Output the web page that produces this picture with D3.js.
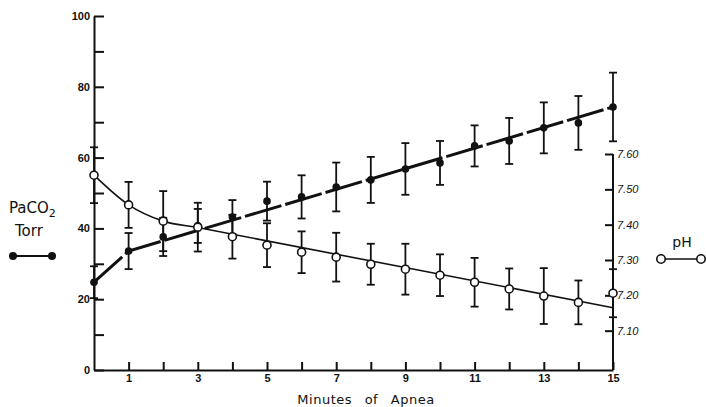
<!DOCTYPE html>
<html>
<head>
<meta charset="utf-8">
<script src="https://cdn.jsdelivr.net/npm/d3@7"></script>
<style>
  body { margin: 0; background: #fff; }
  svg { display: block; font-family: "DejaVu Sans", sans-serif; }
  .axis path, .axis line { stroke: #111; stroke-width: 2; }
  .axis text { fill: #111; }
</style>
</head>
<body>
<div id="chart"></div>
<script>
// minutes of apnea
var minutes = [0, 1, 2, 3, 4, 5, 6, 7, 8, 9, 10, 11, 12, 13, 14, 15];

// PaCO2 (Torr), mean and SD
var paco2 = [24.8, 33.6, 37.6, 40.7, 43.2, 47.7, 48.9, 51.7, 53.7, 56.8, 58.5, 63.3, 64.7, 68.4, 69.8, 74.3];
var paco2Sd = [4.5, 5.1, 5.4, 4.8, 4.8, 5.5, 6.1, 6.9, 6.5, 7.3, 6.2, 5.8, 6.5, 7.2, 7.6, 9.7];

// pH, mean and SD
var ph = [7.54, 7.456, 7.41, 7.393, 7.366, 7.342, 7.322, 7.308, 7.288, 7.274, 7.257, 7.237, 7.218, 7.198, 7.18, 7.206];
var phSd = [0.079, 0.065, 0.085, 0.069, 0.062, 0.062, 0.059, 0.069, 0.058, 0.072, 0.059, 0.069, 0.058, 0.079, 0.062, 0.068];

// drawn trend lines
var paco2FitMin = [0, 1, 15];
var paco2Fit = [24.8, 33.6, 74.3];
var phFitMin = [0, 1, 2, 3, 15];
var phFit = [7.54, 7.456, 7.41, 7.392, 7.165];

// axis ticks
var leftTicks = [0, 10, 20, 30, 40, 50, 60, 70, 80, 90, 100];
var bottomTicks = [1, 2, 3, 4, 5, 6, 7, 8, 9, 10, 11, 12, 13, 14, 15];
var rightTicks = [7.1, 7.2, 7.3, 7.4, 7.5, 7.6];

var W = 706, H = 407;
var x0 = 94, x1 = 613, yBase = 370;

var x = d3.scaleLinear().domain([0, 15]).range([x0, x1]);
var y = d3.scaleLinear().domain([0, 100]).range([yBase, 16]);
var yPh = d3.scaleLinear().domain([7.0, 7.6]).range([366, 154]);

var svg = d3.select("#chart").append("svg")
    .attr("width", W)
    .attr("height", H);

/* axes */
svg.append("g").attr("class", "axis")
    .attr("transform", "translate(" + x0 + ",0)")
    .call(d3.axisLeft(y)
        .tickValues(leftTicks)
        .tickSizeInner(-10)
        .tickSizeOuter(0)
        .tickPadding(4)
        .tickFormat(function (d) { return d % 20 === 0 ? d : ""; }))
    .selectAll("text")
    .style("font-size", "11px")
    .style("font-weight", "bold");

svg.append("g").attr("class", "axis")
    .attr("transform", "translate(0," + yBase + ")")
    .call(d3.axisBottom(x)
        .tickValues(bottomTicks)
        .tickSizeInner(-8)
        .tickSizeOuter(0)
        .tickPadding(4)
        .tickFormat(function (d) { return d % 2 === 1 ? d : ""; }))
    .selectAll("text")
    .style("font-size", "11px")
    .style("font-weight", "bold");

var rAxis = svg.append("g").attr("class", "axis")
    .attr("transform", "translate(" + x1 + ",0)")
    .call(d3.axisRight(yPh)
        .tickValues(rightTicks)
        .tickSizeInner(-8)
        .tickSizeOuter(0)
        .tickPadding(4)
        .tickFormat(d3.format(".2f")));
rAxis.select(".domain").remove();
rAxis.selectAll("text")
    .style("font-size", "11px")
    .style("font-style", "italic");
rAxis.append("line")
    .attr("x1", 0).attr("x2", 0)
    .attr("y1", yPh(7.6)).attr("y2", yBase)
    .attr("stroke", "#111").attr("stroke-width", 2);

/* trend lines */
var paco2Line = d3.line()
    .x(function (d) { return x(d[0]); })
    .y(function (d) { return y(d[1]); });

svg.append("path")
    .datum(d3.zip(paco2FitMin, paco2Fit))
    .attr("d", paco2Line)
    .attr("fill", "none")
    .attr("stroke", "#111")
    .attr("stroke-width", 3)
    .attr("stroke-dasharray", "38,4");

var phLine = d3.line()
    .curve(d3.curveMonotoneX)
    .x(function (d) { return x(d[0]); })
    .y(function (d) { return yPh(d[1]); });

svg.append("path")
    .datum(d3.zip(phFitMin, phFit))
    .attr("d", phLine)
    .attr("fill", "none")
    .attr("stroke", "#111")
    .attr("stroke-width", 1.6);

/* error bars */
function errorBars(vals, sds, scale) {
    var g = svg.append("g")
        .attr("stroke", "#111")
        .attr("stroke-width", 1.8);
    minutes.forEach(function (m, i) {
        var cx = x(m), top = scale(vals[i] + sds[i]), bot = scale(vals[i] - sds[i]);
        g.append("line").attr("x1", cx).attr("x2", cx).attr("y1", top).attr("y2", bot);
        g.append("line").attr("x1", cx - 4).attr("x2", cx + 4).attr("y1", top).attr("y2", top);
        g.append("line").attr("x1", cx - 4).attr("x2", cx + 4).attr("y1", bot).attr("y2", bot);
    });
}
errorBars(ph, phSd, yPh);
errorBars(paco2, paco2Sd, y);

/* markers */
svg.append("g").selectAll("circle")
    .data(d3.zip(minutes, paco2))
    .enter().append("circle")
    .attr("cx", function (d) { return x(d[0]); })
    .attr("cy", function (d) { return y(d[1]); })
    .attr("r", 3.8)
    .attr("fill", "#111");

svg.append("g").selectAll("circle")
    .data(d3.zip(minutes, ph))
    .enter().append("circle")
    .attr("cx", function (d) { return x(d[0]); })
    .attr("cy", function (d) { return yPh(d[1]); })
    .attr("r", 4)
    .attr("fill", "#fff")
    .attr("stroke", "#111")
    .attr("stroke-width", 1.6);

/* x title */
svg.append("text")
    .attr("x", 366)
    .attr("y", 404)
    .attr("text-anchor", "middle")
    .style("font-size", "13px")
    .style("letter-spacing", "0.5px")
    .style("word-spacing", "8px")
    .attr("fill", "#111")
    .text("Minutes of Apnea");

/* left legend */
var lt = svg.append("text")
    .attr("x", 9).attr("y", 213)
    .style("font-size", "15px")
    .attr("fill", "#111");
lt.append("tspan").text("PaCO");
lt.append("tspan").attr("dy", 4).style("font-size", "11px").text("2");
svg.append("text")
    .attr("x", 15).attr("y", 236)
    .style("font-size", "15px")
    .attr("fill", "#111")
    .text("Torr");
svg.append("line")
    .attr("x1", 13).attr("x2", 52).attr("y1", 256).attr("y2", 256)
    .attr("stroke", "#111").attr("stroke-width", 2);
svg.append("g").selectAll("circle")
    .data([13, 52]).enter().append("circle")
    .attr("cx", function (d) { return d; }).attr("cy", 256)
    .attr("r", 4).attr("fill", "#111");

/* right legend */
svg.append("text")
    .attr("x", 682).attr("y", 247)
    .attr("text-anchor", "middle")
    .style("font-size", "14px")
    .attr("fill", "#111")
    .text("pH");
svg.append("line")
    .attr("x1", 661).attr("x2", 701).attr("y1", 259).attr("y2", 259)
    .attr("stroke", "#111").attr("stroke-width", 1.6);
svg.append("g").selectAll("circle")
    .data([661, 701]).enter().append("circle")
    .attr("cx", function (d) { return d; }).attr("cy", 259)
    .attr("r", 4.2).attr("fill", "#fff")
    .attr("stroke", "#111").attr("stroke-width", 1.6);
</script>
</body>
</html>
